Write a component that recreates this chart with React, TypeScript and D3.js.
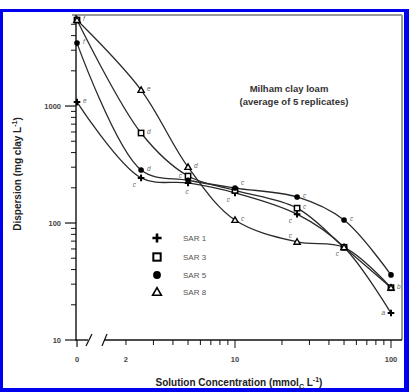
import React from "react";
import * as d3 from "d3";

// ---- data ----
const CONCENTRATIONS = [0, 2.5, 5, 10, 25, 50, 100];
const SAR1_VALUES = [1080, 243, 220, 181, 119, 62, 17];
const SAR3_VALUES = [5430, 588, 252, 190, 134, 62, 28];
const SAR5_VALUES = [3450, 284, 232, 199, 167, 106, 36];
const SAR8_VALUES = [5430, 1370, 301, 106, 69, 62, 28];

const SAR1_LETTERS = ["e", "c", "c", "c", "c", "c", "a"];
const SAR3_LETTERS = ["f", "d", "c", "c", "c", "c", "b"];
const SAR5_LETTERS = ["f", "d", "c", "c", "c", "c", "b"];
const SAR8_LETTERS = ["f", "e", "d", "c", "c", "c", "b"];

// which letter is shown, and on which side of its marker ("" = hidden under another)
const SAR1_LETTER_SIDES = ["r", "bl", "b", "bl", "bl", "bl", "l"];
const SAR3_LETTER_SIDES = ["", "r", "l", "", "r", "", "r"];
const SAR5_LETTER_SIDES = ["r", "r", "", "tr", "r", "r", ""];
const SAR8_LETTER_SIDES = ["r", "r", "r", "r", "tl", "", ""];

const SERIES_NAMES = ["SAR 1", "SAR 3", "SAR 5", "SAR 8"];
const SERIES_SYMBOLS = ["plus", "square", "circle", "triangle"];

const Y_MAJOR_TICKS = [10, 100, 1000];
const X_LABELLED_TICKS = [2, 10, 100];
const X_ZERO_LABEL = "0";

const TITLE_LINE_1 = "Milham clay loam";
const TITLE_LINE_2 = "(average of 5 replicates)";

// ---- layout ----
const W = 409;
const H = 392;
const AX_LEFT = 76;
const AX_BOTTOM = 340;
const PLOT_TOP = 15;
const PLOT_RIGHT = 402;
const X_ZERO_PX = 77;
const BREAK_START = 104;

const yScale = d3.scaleLog().domain([10, 6000]).range([AX_BOTTOM, PLOT_TOP]);
const xScale = d3.scaleLog().domain([10, 100]).range([235, 391]);
const xPos = (v: number) => (v === 0 ? X_ZERO_PX : xScale(v));

const FONT = "'Liberation Sans', Arial, Helvetica, sans-serif";
const LINE_COLOR = "#2a2a2a";

const seriesValues = [SAR1_VALUES, SAR3_VALUES, SAR5_VALUES, SAR8_VALUES];
const seriesLetters = [SAR1_LETTERS, SAR3_LETTERS, SAR5_LETTERS, SAR8_LETTERS];
const seriesSides = [SAR1_LETTER_SIDES, SAR3_LETTER_SIDES, SAR5_LETTER_SIDES, SAR8_LETTER_SIDES];

function Marker({ kind, x, y, s }: { kind: string; x: number; y: number; s: number }) {
  if (kind === "plus") {
    return (
      <path
        d={`M${x - s},${y}H${x + s}M${x},${y - s}V${y + s}`}
        stroke="#000"
        strokeWidth={s > 4 ? 2.6 : 2}
        fill="none"
      />
    );
  }
  if (kind === "square") {
    const h = s * 0.8;
    return (
      <rect x={x - h} y={y - h} width={2 * h} height={2 * h} fill="#fff" stroke="#000" strokeWidth={s > 4 ? 2 : 1.5} />
    );
  }
  if (kind === "circle") {
    return <circle cx={x} cy={y} r={s * 0.85} fill="#000" />;
  }
  const h = s * 0.95;
  return (
    <path
      d={`M${x},${y - h}L${x + h},${y + h * 0.75}L${x - h},${y + h * 0.75}Z`}
      fill="#fff"
      stroke="#000"
      strokeWidth={s > 4 ? 1.6 : 1.4}
    />
  );
}

const SIDE_OFFSETS: Record<string, [number, number, string]> = {
  r: [6, 1, "start"],
  l: [-6, 2, "end"],
  bl: [-5, 9, "end"],
  b: [-1, 11, "middle"],
  tr: [6, -3, "start"],
  tl: [-5, -4, "end"],
};

export default function App() {
  const line = d3
    .line<[number, number]>()
    .x((d) => xPos(d[0]))
    .y((d) => yScale(d[1]))
    .curve(d3.curveCatmullRom.alpha(0.5));

  const yMinor = yScale.ticks().filter((t) => t < 6000 && !Y_MAJOR_TICKS.includes(t));
  const xTicks = d3.scaleLog().domain([2, 100]).ticks();

  const legendYs = [238, 257, 275, 292];

  return (
    <svg
      width={W}
      height={H}
      viewBox={`0 0 ${W} ${H}`}
      style={{ position: "absolute", left: 0, top: 0, background: "#fff" }}
    >
      <rect x={0} y={0} width={W} height={H} fill="#fff" />
      {/* blue frame */}
      <rect x={0} y={9} width={3} height={H - 9} fill="#0000f0" />
      <rect x={404} y={9} width={5} height={H - 9} fill="#0000f0" />
      <rect x={0} y={9} width={W} height={3} fill="#0000f0" />
      <rect x={0} y={388} width={W} height={4} fill="#0000f0" />

      {/* plot box top / right (grey) */}
      <line x1={AX_LEFT - 4} x2={PLOT_RIGHT} y1={PLOT_TOP} y2={PLOT_TOP} stroke="#9a9a9a" strokeWidth={2} />
      <line x1={PLOT_RIGHT} x2={PLOT_RIGHT} y1={PLOT_TOP} y2={AX_BOTTOM} stroke="#9a9a9a" strokeWidth={2} />

      {/* y axis */}
      <line x1={AX_LEFT} x2={AX_LEFT} y1={PLOT_TOP} y2={AX_BOTTOM + 1} stroke="#111" strokeWidth={1.4} />
      {Y_MAJOR_TICKS.map((t) => (
        <g key={"ym" + t}>
          <line x1={AX_LEFT - 11} x2={AX_LEFT} y1={yScale(t)} y2={yScale(t)} stroke="#111" strokeWidth={1.2} />
          <text
            x={AX_LEFT - 15}
            y={yScale(t)}
            dy="0.35em"
            textAnchor="end"
            fontFamily={FONT}
            fontSize={7.5}
            fontWeight="bold"
            fill="#444"
          >
            {t}
          </text>
        </g>
      ))}
      {yMinor.map((t) => (
        <line key={"yn" + t} x1={AX_LEFT - 5} x2={AX_LEFT} y1={yScale(t)} y2={yScale(t)} stroke="#111" strokeWidth={1} />
      ))}

      {/* x axis with break */}
      <line x1={AX_LEFT} x2={88} y1={AX_BOTTOM} y2={AX_BOTTOM} stroke="#111" strokeWidth={1.4} />
      <line x1={BREAK_START} x2={PLOT_RIGHT} y1={AX_BOTTOM} y2={AX_BOTTOM} stroke="#111" strokeWidth={1.4} />
      <line x1={86} x2={92} y1={AX_BOTTOM + 6} y2={AX_BOTTOM - 6} stroke="#111" strokeWidth={1.2} />
      <line x1={102} x2={107} y1={AX_BOTTOM + 6} y2={AX_BOTTOM - 6} stroke="#111" strokeWidth={1.2} />
      <line x1={X_ZERO_PX} x2={X_ZERO_PX} y1={AX_BOTTOM} y2={AX_BOTTOM + 7} stroke="#111" strokeWidth={1.2} />
      <text x={X_ZERO_PX} y={359} dy="0.35em" textAnchor="middle" fontFamily={FONT} fontSize={7.5} fontWeight="bold" fill="#444">
        {X_ZERO_LABEL}
      </text>
      {xTicks.map((t) => {
        const major = t === 10 || t === 100;
        return (
          <line
            key={"xt" + t}
            x1={xScale(t)}
            x2={xScale(t)}
            y1={AX_BOTTOM}
            y2={AX_BOTTOM + (major ? 8 : 5)}
            stroke="#111"
            strokeWidth={1}
          />
        );
      })}
      {X_LABELLED_TICKS.map((t) => (
        <text
          key={"xl" + t}
          x={xScale(t)}
          y={359}
          dy="0.35em"
          textAnchor="middle"
          fontFamily={FONT}
          fontSize={7.5}
          fontWeight="bold"
          fill="#444"
        >
          {t}
        </text>
      ))}

      {/* axis titles */}
      <text x={239} y={386} textAnchor="middle" fontFamily={FONT} fontSize={10} fontWeight="bold" fill="#222">
        Solution Concentration (mmol
        <tspan fontSize={7} dy={3}>C</tspan>
        <tspan dy={-3}> L</tspan>
        <tspan fontSize={7} dy={-4}>-1</tspan>
        <tspan dy={4}>)</tspan>
      </text>
      <text
        transform="translate(21,174) rotate(-90)"
        textAnchor="middle"
        fontFamily={FONT}
        fontSize={10}
        fontWeight="bold"
        fill="#222"
      >
        Dispersion (mg clay L<tspan fontSize={7} dy={-4}>-1</tspan>
        <tspan dy={4}>)</tspan>
      </text>

      {/* annotation */}
      <text x={289} y={92} textAnchor="middle" fontFamily={FONT} fontSize={9.5} fontWeight="bold" fill="#333">
        {TITLE_LINE_1}
      </text>
      <text x={294} y={105} textAnchor="middle" fontFamily={FONT} fontSize={9.5} fontWeight="bold" fill="#333">
        {TITLE_LINE_2}
      </text>

      {/* curves */}
      {seriesValues.map((vals, i) => (
        <path
          key={"c" + i}
          d={line(CONCENTRATIONS.map((c, j) => [c, vals[j]] as [number, number])) || ""}
          fill="none"
          stroke={LINE_COLOR}
          strokeWidth={1.3}
        />
      ))}

      {/* markers */}
      {seriesValues.map((vals, i) =>
        CONCENTRATIONS.map((c, j) => (
          <Marker key={"m" + i + "-" + j} kind={SERIES_SYMBOLS[i]} x={xPos(c)} y={yScale(vals[j])} s={3.3} />
        ))
      )}

      {/* significance letters */}
      {seriesValues.map((vals, i) =>
        CONCENTRATIONS.map((c, j) => {
          const side = seriesSides[i][j];
          if (!side) return null;
          const [dx, dy, anchor] = SIDE_OFFSETS[side];
          return (
            <text
              key={"l" + i + "-" + j}
              x={xPos(c) + dx}
              y={yScale(vals[j]) + dy}
              textAnchor={anchor}
              fontFamily={FONT}
              fontSize={6.5}
              fontStyle="italic"
              fill="#666"
            >
              {seriesLetters[i][j]}
            </text>
          );
        })
      )}

      {/* legend */}
      {SERIES_NAMES.map((name, i) => (
        <g key={"lg" + i}>
          <Marker kind={SERIES_SYMBOLS[i]} x={157} y={legendYs[i]} s={4.6} />
          <text x={183} y={legendYs[i]} dy="0.35em" fontFamily={FONT} fontSize={8} fill="#555">
            {name}
          </text>
        </g>
      ))}
    </svg>
  );
}
